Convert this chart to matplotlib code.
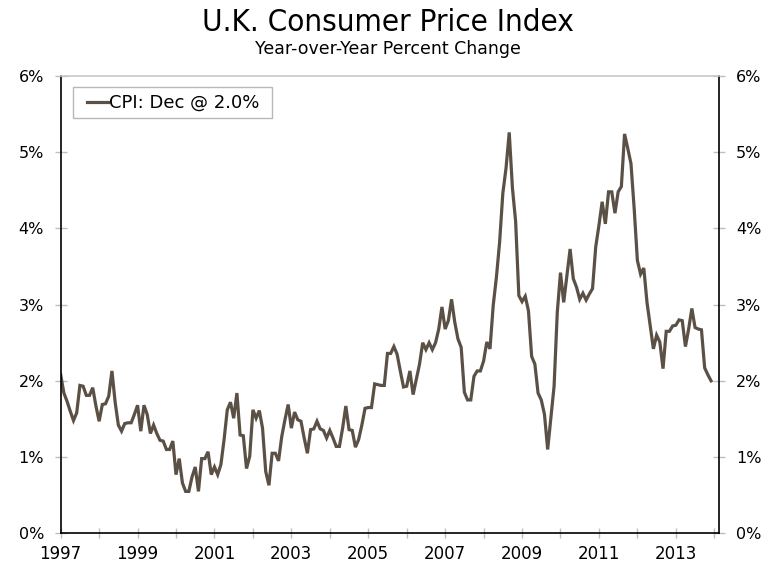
import numpy as np
import matplotlib
matplotlib.use("Agg")
import matplotlib.pyplot as plt
from matplotlib.ticker import FixedLocator, FuncFormatter
from matplotlib.legend_handler import HandlerLine2D

# monthly UK CPI, y/y % change, Jan 1997 - Dec 2013
cpi_1997 = [2.08, 1.84, 1.73, 1.60, 1.48, 1.58, 1.94, 1.93, 1.81, 1.81, 1.91, 1.67]
cpi_1998 = [1.47, 1.69, 1.70, 1.80, 2.13, 1.72, 1.42, 1.34, 1.44, 1.45, 1.45, 1.56]
cpi_1999 = [1.68, 1.34, 1.68, 1.56, 1.31, 1.42, 1.31, 1.22, 1.21, 1.10, 1.10, 1.21]
cpi_2000 = [0.77, 0.98, 0.66, 0.55, 0.55, 0.74, 0.87, 0.55, 0.98, 0.98, 1.07, 0.77]
cpi_2001 = [0.87, 0.77, 0.90, 1.23, 1.62, 1.72, 1.51, 1.84, 1.29, 1.28, 0.85, 1.01]
cpi_2002 = [1.62, 1.51, 1.61, 1.38, 0.81, 0.63, 1.05, 1.05, 0.95, 1.27, 1.49, 1.69]
cpi_2003 = [1.38, 1.59, 1.49, 1.47, 1.25, 1.05, 1.36, 1.37, 1.47, 1.37, 1.35, 1.25]
cpi_2004 = [1.35, 1.25, 1.14, 1.14, 1.38, 1.67, 1.36, 1.35, 1.13, 1.23, 1.42, 1.64]
cpi_2005 = [1.65, 1.65, 1.96, 1.95, 1.94, 1.94, 2.36, 2.36, 2.45, 2.35, 2.13, 1.92]
cpi_2006 = [1.93, 2.13, 1.82, 2.02, 2.22, 2.50, 2.41, 2.50, 2.41, 2.50, 2.68, 2.97]
cpi_2007 = [2.68, 2.79, 3.07, 2.77, 2.55, 2.44, 1.85, 1.75, 1.75, 2.06, 2.13, 2.13]
cpi_2008 = [2.26, 2.51, 2.42, 2.99, 3.36, 3.82, 4.46, 4.79, 5.26, 4.53, 4.09, 3.12]
cpi_2009 = [3.04, 3.11, 2.92, 2.32, 2.22, 1.84, 1.75, 1.56, 1.10, 1.52, 1.93, 2.90]
cpi_2010 = [3.42, 3.03, 3.38, 3.73, 3.34, 3.23, 3.07, 3.15, 3.06, 3.14, 3.21, 3.76]
cpi_2011 = [4.04, 4.35, 4.06, 4.48, 4.48, 4.20, 4.48, 4.55, 5.24, 5.05, 4.85, 4.26]
cpi_2012 = [3.58, 3.40, 3.48, 3.03, 2.72, 2.42, 2.60, 2.51, 2.16, 2.65, 2.65, 2.72]
cpi_2013 = [2.73, 2.80, 2.79, 2.45, 2.68, 2.95, 2.70, 2.68, 2.67, 2.17, 2.08, 2.00]

cpi = np.array(cpi_1997 + cpi_1998 + cpi_1999 + cpi_2000 + cpi_2001 + cpi_2002
               + cpi_2003 + cpi_2004 + cpi_2005 + cpi_2006 + cpi_2007 + cpi_2008
               + cpi_2009 + cpi_2010 + cpi_2011 + cpi_2012 + cpi_2013)
dates = 1997 + np.arange(len(cpi)) / 12.0

year_labels = list(range(1997, 2014, 2))
all_years = list(range(1997, 2015))
y_ticks = [0, 1, 2, 3, 4, 5, 6]

line_color = "#5B5045"
tick_gray = "#BFBFBF"


class InsetLine(HandlerLine2D):
    # legend line that leaves a gap on its left, like the Excel legend
    def create_artists(self, legend, orig_handle, xdescent, ydescent,
                       width, height, fontsize, trans):
        shift = 0.42 * fontsize
        return super().create_artists(legend, orig_handle, xdescent - shift,
                                      ydescent, width - shift, height,
                                      fontsize, trans)


fig = plt.figure(figsize=(7.76, 5.65), dpi=100)
ax = fig.add_axes([0.0782, 0.0561, 0.8487, 0.8094])

line, = ax.plot(dates, cpi, color=line_color, lw=2.3, solid_joinstyle="miter",
                label="CPI: Dec @ 2.0% ")

ax.set_xlim(1997, 2014.13)
ax.set_ylim(0, 6)

ax.xaxis.set_major_locator(FixedLocator(year_labels))
ax.xaxis.set_minor_locator(FixedLocator(all_years))
ax.xaxis.set_major_formatter(FuncFormatter(lambda v, p: f"{int(round(v))}"))
ax.yaxis.set_major_locator(FixedLocator(y_ticks))
ax.yaxis.set_major_formatter(FuncFormatter(lambda v, p: f"{v:.0f}%"))

ax.tick_params(axis="x", which="both", direction="inout", length=6.5,
               color=tick_gray, width=1, labelsize=12, pad=5)
ax.tick_params(axis="y", which="major", direction="inout", length=8,
               color=tick_gray, width=1, labelsize=11.5, pad=8,
               left=True, right=True, labelleft=True, labelright=True)

for side in ["left", "right", "bottom"]:
    ax.spines[side].set_color("black")
    ax.spines[side].set_linewidth(1.2)
ax.spines["top"].set_color("#C8C8C8")
ax.spines["top"].set_linewidth(1.2)

leg = ax.legend(loc="upper left", bbox_to_anchor=(0.0182, 0.975),
                borderaxespad=0, fontsize=13, frameon=True, fancybox=False,
                handlelength=1.62, handletextpad=0.05, borderpad=0.36,
                handler_map={line: InsetLine()})
leg.get_frame().set_edgecolor("#A6A6A6")
leg.get_frame().set_linewidth(1)

fig.text(0.5, 0.985, "U.K. Consumer Price Index", ha="center", va="top",
         fontsize=22.5, fontstretch="condensed")
fig.text(0.5, 0.929, "Year-over-Year Percent Change", ha="center", va="top",
         fontsize=12.5)

fig.savefig("out.png", dpi=100)
